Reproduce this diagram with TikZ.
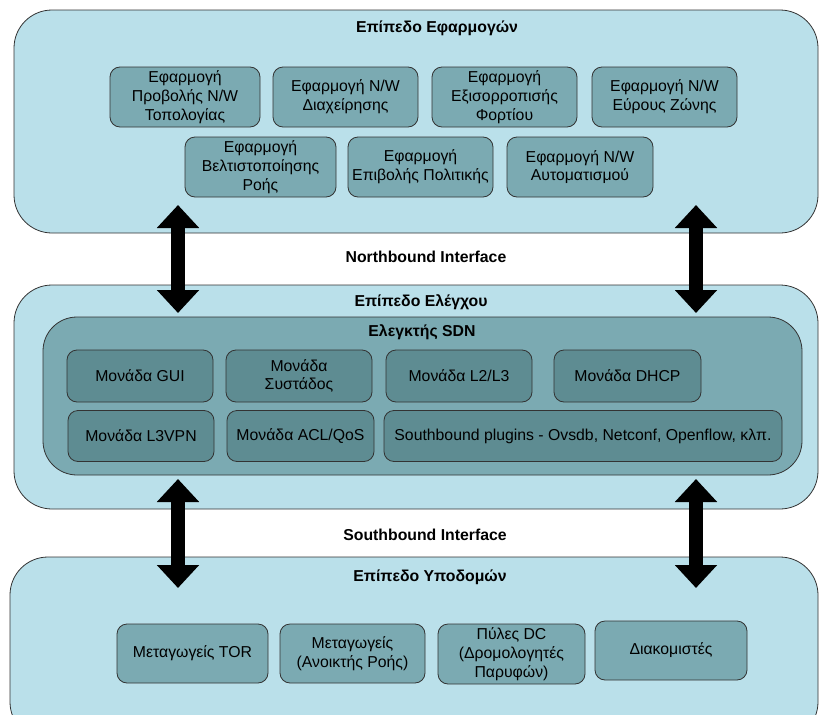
\documentclass[tikz,border=0pt]{standalone}
\usepackage{fontspec}
\setmainfont{Liberation Sans}
\usetikzlibrary{arrows.meta}

\definecolor{layerblue}{HTML}{BAE0EA}
\definecolor{appteal}{HTML}{7BAAB2}
\definecolor{modteal}{HTML}{5E8C92}

\begin{document}
\begin{tikzpicture}
[
    x=1pt, y=-1pt,
    layer/.style={draw=black!80, line width=0.8pt, fill=layerblue, rounded corners=38pt},
    ctrl/.style={draw=black!80, line width=0.8pt, fill=appteal, rounded corners=34pt},
    app/.style={draw=black!80, line width=0.8pt, fill=appteal, rounded corners=10pt,
        align=center, inner sep=0pt, font=\fontsize{15.8}{18.8}\selectfont},
    module/.style={app, fill=modteal},
    title/.style={font=\fontsize{15.8}{18.8}\selectfont\bfseries},
    bigarrow/.style={line width=14pt, {Triangle[width=41pt,length=23pt]}-{Triangle[width=41pt,length=23pt]}},
]
\useasboundingbox (0,0) rectangle (820,715);
\fill[white] (0,0) rectangle (820,715);

% layers
\draw[layer] (14,10) rectangle (818,233);
\draw[layer] (14,285) rectangle (818,509);
\draw[layer] (10,557) rectangle (818,740);
\draw[ctrl] (43,317) rectangle (802,475);

\node[title] (apptitle) at (437,28) {Επίπεδο Εφαρμογών};
\node[title] (nbi) at (426,257) {Northbound Interface};
\node[title] (ctrltitle) at (421,302) {Επίπεδο Ελέγχου};
\node[title] (sdntitle) at (422,332) {Ελεγκτής SDN};
\node[title] (sbi) at (425,535) {Southbound Interface};
\node[title] (infratitle) at (430,577) {Επίπεδο Υποδομών};

% application layer
\node[app, minimum width=150pt, minimum height=60pt] (topo) at (185,97) {Εφαρμογή\\Προβολής N/W\\Τοπολογίας};
\node[app, minimum width=145pt, minimum height=60pt] (mgmt) at (345.5,97) {Εφαρμογή N/W\\Διαχείρησης};
\node[app, minimum width=145pt, minimum height=60pt] (lb) at (504.5,97) {Εφαρμογή\\Εξισορροπισής\\Φορτίου};
\node[app, minimum width=145pt, minimum height=60pt] (bw) at (664.5,97) {Εφαρμογή N/W\\Εύρους Ζώνης};
\node[app, minimum width=151pt, minimum height=60pt] (flow) at (260.5,167) {Εφαρμογή\\Βελτιστοποίησης\\Ροής};
\node[app, minimum width=145pt, minimum height=60pt] (policy) at (420.5,167) {Εφαρμογή\\Επιβολής Πολιτικής};
\node[app, minimum width=146pt, minimum height=60pt] (auto) at (580,167) {Εφαρμογή N/W\\Αυτοματισμού};

% controller modules
\node[module, minimum width=146pt, minimum height=52pt] (gui) at (140,376) {Μονάδα GUI};
\node[module, minimum width=146pt, minimum height=52pt] (cluster) at (299,376) {Μονάδα\\Συστάδος};
\node[module, minimum width=146pt, minimum height=52pt] (l2l3) at (459,376) {Μονάδα L2/L3};
\node[module, minimum width=147pt, minimum height=52pt] (dhcp) at (627.5,376) {Μονάδα DHCP};
\node[module, minimum width=146pt, minimum height=51pt] (vpn) at (141,436) {Μονάδα L3VPN};
\node[module, minimum width=147pt, minimum height=51pt] (acl) at (300.5,436) {Μονάδα ACL/QoS};
\node[module, minimum width=398pt, minimum height=51pt] (plugins) at (583,436) {Southbound plugins - Ovsdb, Netconf, Openflow, κλπ.};

% infrastructure layer
\node[app, minimum width=151pt, minimum height=59pt] (tor) at (192.5,653.5) {Μεταγωγείς TOR};
\node[app, minimum width=145pt, minimum height=59pt] (ofsw) at (352.5,653.5) {Μεταγωγείς\\(Ανοικτής Ροής)};
\node[app, minimum width=147pt, minimum height=60pt] (gw) at (511.5,654) {Πύλες DC\\(Δρομολογητές\\Παρυφών)};
\node[app, minimum width=152pt, minimum height=59pt] (srv) at (671,650.5) {Διακομιστές};

% interfaces
\coordinate (nl1) at (178,205);
\coordinate (nl2) at (178,313);
\coordinate (nr1) at (696,205);
\coordinate (nr2) at (696,313);
\coordinate (sl1) at (178,479);
\coordinate (sl2) at (178,588);
\coordinate (sr1) at (696,479);
\coordinate (sr2) at (696,588);
\draw[bigarrow] (nl1) -- (nl2);
\draw[bigarrow] (nr1) -- (nr2);
\draw[bigarrow] (sl1) -- (sl2);
\draw[bigarrow] (sr1) -- (sr2);
\end{tikzpicture}
\end{document}
